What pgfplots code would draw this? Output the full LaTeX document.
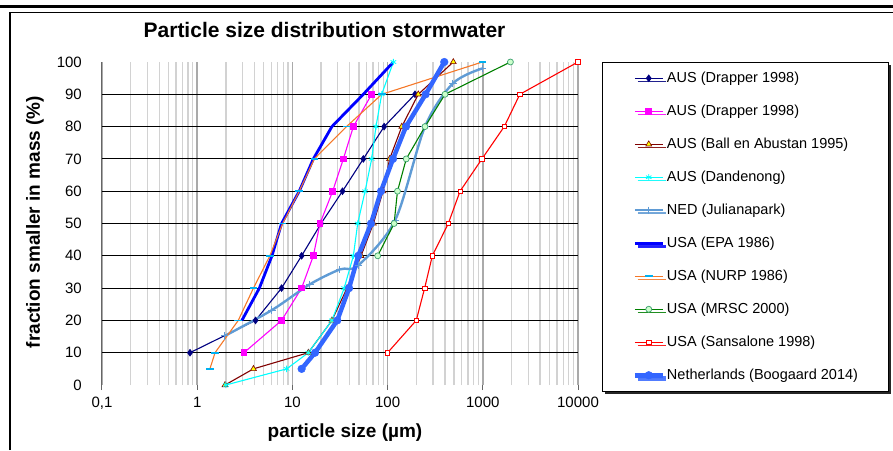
\documentclass[border=0pt]{standalone}
\usepackage{fontspec}
\setmainfont{Liberation Sans}
\usepackage{pgfplots}
\pgfplotsset{compat=1.18}
\usetikzlibrary{shadows}
\definecolor{cNavy}{RGB}{0,0,128}
\definecolor{cMag}{RGB}{255,0,255}
\definecolor{cBrown}{RGB}{128,0,0}
\definecolor{cYel}{RGB}{255,255,0}
\definecolor{cCyan}{RGB}{0,255,255}
\definecolor{cNed}{RGB}{95,155,213}
\definecolor{cEpa}{RGB}{0,0,255}
\definecolor{cNurp}{RGB}{245,120,40}
\definecolor{cNurpM}{RGB}{0,176,240}
\definecolor{cGreen}{RGB}{0,128,0}
\definecolor{cGreenF}{RGB}{204,255,204}
\definecolor{cGreenD}{RGB}{60,160,110}
\definecolor{cRed}{RGB}{255,0,0}
\definecolor{cNL}{RGB}{51,102,255}
\definecolor{cMinor}{RGB}{210,210,210}
\definecolor{cMajor}{RGB}{170,170,170}
\begin{document}
\begin{tikzpicture}
\useasboundingbox (0pt,0pt) rectangle (893pt,450pt);
\draw[line width=2.2pt] (0pt,443.5pt) -- (893pt,443.5pt);
\draw[line width=1.6pt] (10pt,0pt) -- (10pt,437.5pt) -- (893pt,437.5pt);
\begin{axis}[
  at={(102pt,65pt)}, anchor=south west,
  width=476pt, height=323pt, scale only axis,
  xmode=log, log basis x=10,
  xmin=0.1, xmax=10000, ymin=0, ymax=100,
  clip=false,
  axis x line*=bottom, axis y line*=left,
  x axis line style={draw=none},
  y axis line style={draw=black!60, line width=1pt},
  xtick={0.1,1,10,100,1000,10000},
  xticklabels={{0,1},1,10,100,1000,10000},
  minor xtick={0.2,0.3,0.4,0.5,0.6,0.7,0.8,0.9,2,3,4,5,6,7,8,9,20,30,40,50,60,70,80,90,200,300,400,500,600,700,800,900,2000,3000,4000,5000,6000,7000,8000,9000},
  xmajorgrids, xminorgrids,
  major x grid style={draw=cMajor, line width=1.5pt},
  minor x grid style={draw=cMinor, line width=1.3pt},
  tick align=outside,
  major tick length=5pt, minor tick length=0pt,
  xtick style={draw=black!60, line width=1pt},
  ytick={0,10,...,100},
  ytick style={draw=none},
  extra y ticks={10,20,30,40,50,60,70,80,90},
  extra y tick labels={},
  extra y tick style={grid=major, major tick length=0pt},
  major y grid style={draw=black, line width=1.1pt},
  /pgf/number format/assume math mode=true,
  ticklabel style={font=\fontsize{15}{18}\selectfont, inner sep=0pt},
  yticklabel style={xshift=-15pt},
  xticklabel style={yshift=-7pt},
  title={Particle size distribution stormwater},
  title style={font=\bfseries\fontsize{21}{25}\selectfont, at={(axis description cs:0.4675,1.0588)}, anchor=base},
  xlabel={particle size (µm)},
  xlabel style={font=\bfseries\fontsize{19}{22}\selectfont, at={(axis description cs:0.5105,-0.1486)}, anchor=center},
  ylabel={fraction smaller in mass (\%)},
  ylabel style={font=\bfseries\fontsize{19}{22}\selectfont, at={(axis description cs:-0.1408,0.5046)}, anchor=center},
  legend image code/.code={\draw[mark repeat=2,mark phase=2,#1] plot coordinates {(0pt,0pt) (14pt,0pt) (28pt,0pt)};},
  legend style={at={(axis description cs:1.0504,1.0)}, anchor=north west,
    draw=black, line width=1pt, fill=white,
    inner xsep=30pt, inner ysep=9pt, row sep=19.5pt, column sep=2pt,
    font=\fontsize{14.5}{17}\selectfont,
    nodes={inner sep=0pt, text height=10.5pt, text depth=3pt},
    cells={anchor=west},
    drop shadow={shadow xshift=3pt, shadow yshift=-3pt, fill=black, opacity=0.85}},
]
\addplot[cNavy, line width=1.1pt, mark=diamond*, mark size=3pt, mark options={solid, fill=cNavy}] coordinates {
(0.84,10) (4.1,20) (7.7,30) (12.5,40) (20,50) (33.6,60) (55.6,70) (92,80) (194,90)};
\addlegendentry{AUS (Drapper 1998)}
\addplot[cMag, line width=1.1pt, mark=square*, mark size=2.8pt, mark options={solid, fill=cMag}] coordinates {
(3.1,10) (7.7,20) (12.5,30) (16.6,40) (19.5,50) (26.5,60) (34.3,70) (43.7,80) (68,90)};
\addlegendentry{AUS (Drapper 1998)}
\addplot[cBrown, line width=1.1pt, mark=triangle*, mark size=3.4pt, mark options={solid, fill=cYel, draw=cBrown, line width=0.6pt}] coordinates {
(1.96,0) (3.9,5) (14.7,10) (26,20) (37.5,30) (52.6,40) (71,50) (89.6,60) (105,70) (141,80) (210,90) (490,100)};
\addlegendentry{AUS (Ball en Abustan 1995)}
\addplot[cCyan, line width=1.1pt, mark=asterisk, mark size=3.2pt, mark options={solid, draw=cCyan, line width=0.8pt}] coordinates {
(2,0) (8.7,5) (14.7,10) (26,20) (35,30) (43.7,40) (48.5,50) (58,60) (68,70) (75.5,80) (86.7,90) (115,100)};
\addlegendentry{AUS (Dandenong)}
\addplot[cNed, line width=2.4pt, smooth, mark=+, mark size=3.6pt, mark options={solid, draw=cNed, line width=1pt}] coordinates {
(1.95,15.2) (6.1,23.2) (15.3,31.2) (31.6,35.8) (49,37) (120,51) (247,80) (486,93.4) (982,98)};
\addlegendentry{NED (Julianapark)}
\addplot[cEpa, line width=2.8pt] coordinates {
(2.95,20) (4.5,30) (6.1,40) (7.7,50) (11.8,60) (16.6,70) (26,80) (55.6,90) (115,100)};
\addlegendentry{USA (EPA 1986)}
\addplot[cNurp, line width=1.1pt, mark=-, mark size=3.8pt, mark options={solid, draw=cNurpM, line width=1.6pt}] coordinates {
(1.36,5) (1.54,10) (2.7,20) (3.9,30) (5.8,40) (7.9,50) (11.8,60) (17,70) (37,80) (87,90) (990,100)};
\addlegendentry{USA (NURP 1986)}
\addplot[cGreen, line width=1.1pt, mark=*, mark size=3pt, mark options={solid, fill=cGreenF, draw=cGreenD, line width=0.7pt}] coordinates {
(78.7,40) (117,50) (127,60) (157,70) (247,80) (401,90) (1950,100)};
\addlegendentry{USA (MRSC 2000)}
\addplot[cRed, line width=1.1pt, mark=square*, mark size=2.2pt, mark options={solid, fill=white, draw=cRed, line width=0.7pt}] coordinates {
(100,10) (200,20) (245,30) (295,40) (434,50) (577,60) (980,70) (1680,80) (2450,90) (10000,100)};
\addlegendentry{USA (Sansalone 1998)}
\addplot[cNL, line width=4.5pt, mark=*, mark size=3.8pt, mark options={solid, fill=cNL, draw=cNL, line width=0.5pt}] coordinates {
(12.5,5) (17.3,10) (29.6,20) (39.4,30) (49.2,40) (67,50) (85.3,60) (114,70) (156,80) (251,90) (394,100)};
\addlegendentry{Netherlands (Boogaard 2014)}
\end{axis}
\end{tikzpicture}
\end{document}
